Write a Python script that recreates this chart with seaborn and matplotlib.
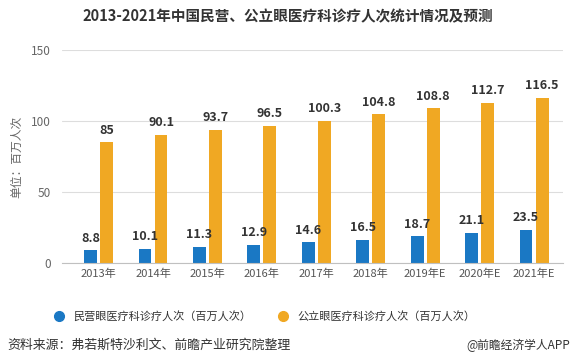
import pandas as pd
import numpy as np
import matplotlib.pyplot as plt
import seaborn as sns
from matplotlib.lines import Line2D

years = ['2013年', '2014年', '2015年', '2016年', '2017年', '2018年', '2019年E', '2020年E', '2021年E']
private_vals = [8.8, 10.1, 11.3, 12.9, 14.6, 16.5, 18.7, 21.1, 23.5]
public_vals = [85, 90.1, 93.7, 96.5, 100.3, 104.8, 108.8, 112.7, 116.5]
series = ['民营眼医疗科诊疗人次（百万人次）', '公立眼医疗科诊疗人次（百万人次）']
colors = ['#1a78c4', '#f0a823']

df = pd.DataFrame({
    'year': years * 2,
    'value': private_vals + public_vals,
    'series': [series[0]] * len(years) + [series[1]] * len(years),
})

sns.set_style('white')
plt.rcParams['font.family'] = ['Noto Sans CJK SC', 'DejaVu Sans']

fig = plt.figure(figsize=(5.75, 3.62), dpi=100)
ax = fig.add_axes([0.108, 0.2735, 0.871, 0.5885])

sns.barplot(data=df, x='year', y='value', hue='series', palette=colors,
            width=0.59, gap=0.2, legend=False, ax=ax, saturation=1, linewidth=0)

# value labels
for cont in ax.containers:
    for bar in cont:
        h = bar.get_height()
        ax.annotate(f'{h:g}', (bar.get_x() + bar.get_width() / 2, h),
                    xytext=(0, 4), textcoords='offset points',
                    ha='center', va='bottom', fontsize=9, fontweight='bold',
                    color='#333333')

ax.set_ylim(0, 150)
ax.set_xlim(-0.67, 8.53)
ax.set_yticks([0, 50, 100, 150])
ax.yaxis.grid(True, color='#dddddd', linewidth=0.8)
ax.set_axisbelow(True)
for s in ['top', 'right', 'left']:
    ax.spines[s].set_visible(False)
ax.spines['bottom'].set_color('#c0c0c0')
ax.tick_params(axis='y', length=0, labelsize=8.5, labelcolor='#666666', pad=8)
ax.tick_params(axis='x', length=0, labelsize=8, labelcolor='#555555', pad=4)
ax.set_xlabel('')
ax.set_ylabel('单位：百万人次', fontsize=8.5, color='#666666', labelpad=6)

fig.text(0.5, 0.955, '2013-2021年中国民营、公立眼医疗科诊疗人次统计情况及预测',
         ha='center', va='center', fontsize=10.5, fontweight='bold', color='#333333')

handles = [Line2D([0], [0], marker='o', linestyle='', markersize=7,
                  markerfacecolor=c, markeredgecolor=c) for c in colors]
fig.legend(handles, series, loc='center', bbox_to_anchor=(0.455, 0.127), ncol=2,
           frameon=False, fontsize=8, handletextpad=0.3, columnspacing=1.8,
           labelcolor='#333333')

fig.text(0.012, 0.045, '资料来源：弗若斯特沙利文、前瞻产业研究院整理',
         ha='left', va='center', fontsize=9.3, color='#333333')
fig.text(0.992, 0.045, '@前瞻经济学人APP',
         ha='right', va='center', fontsize=8.5, color='#333333')

fig.savefig('out.png', dpi=100)
